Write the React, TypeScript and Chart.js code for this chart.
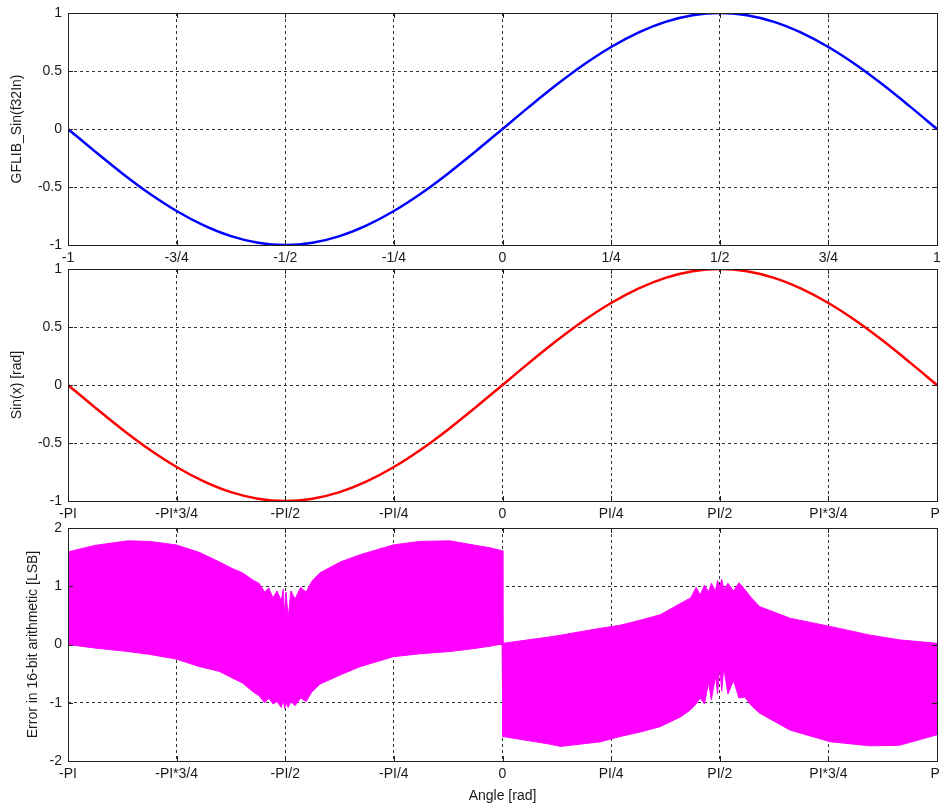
import React, { useEffect, useRef } from "react";
import { Chart, registerables } from "chart.js";

Chart.register(...registerables);

// ---------- tick definitions ----------
const unitTickValues = [-1, -0.75, -0.5, -0.25, 0, 0.25, 0.5, 0.75, 1];
const unitTickLabels = ["-1", "-3/4", "-1/2", "-1/4", "0", "1/4", "1/2", "3/4", "1"];
const piTickLabels = ["-PI", "-PI*3/4", "-PI/2", "-PI/4", "0", "PI/4", "PI/2", "PI*3/4", "PI"];
const sinYTickValues = [-1, -0.5, 0, 0.5, 1];
const sinYTickLabels = ["-1", "-0.5", "0", "0.5", "1"];
const errYTickValues = [-2, -1, 0, 1, 2];
const errYTickLabels = ["-2", "-1", "0", "1", "2"];

// ---------- panel 1: GFLIB_Sin(f32In) ----------
const fracX = [
  -1, -0.9375, -0.875, -0.8125, -0.75, -0.6875, -0.625, -0.5625, -0.5, -0.4375, -0.375,
  -0.3125, -0.25, -0.1875, -0.125, -0.0625, 0, 0.0625, 0.125, 0.1875, 0.25, 0.3125, 0.375,
  0.4375, 0.5, 0.5625, 0.625, 0.6875, 0.75, 0.8125, 0.875, 0.9375, 1,
];
const gflibSin = [
  0, -0.195, -0.383, -0.556, -0.707, -0.831, -0.924, -0.981, -1.0, -0.981, -0.924, -0.831,
  -0.707, -0.556, -0.383, -0.195, 0, 0.195, 0.383, 0.556, 0.707, 0.831, 0.924, 0.981, 1.0,
  0.981, 0.924, 0.831, 0.707, 0.556, 0.383, 0.195, 0,
];

// ---------- panel 2: Sin(x) ----------
const angleX = [
  -3.1416, -2.9452, -2.7489, -2.5525, -2.3562, -2.1598, -1.9635, -1.7671, -1.5708, -1.3744,
  -1.1781, -0.9817, -0.7854, -0.589, -0.3927, -0.1963, 0, 0.1963, 0.3927, 0.589, 0.7854,
  0.9817, 1.1781, 1.3744, 1.5708, 1.7671, 1.9635, 2.1598, 2.3562, 2.5525, 2.7489, 2.9452,
  3.1416,
];
const sinX = [
  0, -0.195, -0.383, -0.556, -0.707, -0.831, -0.924, -0.981, -1.0, -0.981, -0.924, -0.831,
  -0.707, -0.556, -0.383, -0.195, 0, 0.195, 0.383, 0.556, 0.707, 0.831, 0.924, 0.981, 1.0,
  0.981, 0.924, 0.831, 0.707, 0.556, 0.383, 0.195, 0,
];

// ---------- panel 3: error band (upper / lower envelope) ----------
const errX = [
  -3.1416, -2.95, -2.71, -2.55, -2.36, -2.19, -2.05, -1.95, -1.88, -1.8, -1.76, -1.72, -1.69,
  -1.66, -1.63, -1.6, -1.585, -1.575, -1.565, -1.55, -1.53, -1.5, -1.46, -1.42, -1.38, -1.32,
  -1.17, -1.03, -0.79, -0.6, -0.38, -0.24, -0.09, -0.003,
  0.003, 0.34, 0.42, 0.71, 0.85, 1.0, 1.14, 1.29, 1.36, 1.4, 1.43, 1.46, 1.49, 1.51, 1.54,
  1.555, 1.57, 1.585, 1.6, 1.63, 1.67, 1.71, 1.75, 1.8, 1.86, 2.08, 2.37, 2.66, 2.87, 3.1416,
];
const errUpper = [
  1.59, 1.7, 1.78, 1.77, 1.71, 1.58, 1.42, 1.3, 1.23, 1.1, 1.05, 0.9, 0.97, 0.8, 0.92, 0.75,
  0.95, 0.48, 0.9, 0.45, 0.92, 0.78, 0.98, 0.9, 1.08, 1.23, 1.42, 1.54, 1.71, 1.77, 1.78,
  1.72, 1.66, 1.61,
  0.02, 0.13, 0.16, 0.28, 0.33, 0.42, 0.51, 0.71, 0.8, 0.98, 0.85, 1.02, 0.9, 1.05, 0.92,
  1.1, 0.98, 1.12, 0.95, 1.05, 0.92, 1.06, 0.95, 0.8, 0.65, 0.45, 0.31, 0.16, 0.08, 0.02,
];
const errLower = [
  0.0, -0.06, -0.12, -0.17, -0.25, -0.38, -0.46, -0.58, -0.66, -0.82, -0.88, -1.0, -0.92,
  -1.02, -0.98, -1.08, -0.95, -1.1, -1.0, -1.08, -0.98, -1.05, -0.92, -0.98, -0.82, -0.68,
  -0.52, -0.38, -0.21, -0.16, -0.12, -0.08, -0.03, 0.01,
  -1.58, -1.71, -1.75, -1.67, -1.58, -1.5, -1.41, -1.24, -1.12, -1.02, -0.92, -1.02, -0.65,
  -0.95, -0.55, -0.85, -0.38, -0.8, -0.4, -0.85, -0.62, -0.92, -0.9, -1.05, -1.18, -1.47,
  -1.67, -1.74, -1.73, -1.55,
];

const W = 941;
const H = 807;
const PLOT_LEFT = 68;
const PLOT_RIGHT = 937;
const FONT = "'Liberation Sans', Arial, sans-serif";
const TEXT = "#1a1a1a";
const FRAME = "#222222";

const framePlugin = {
  id: "matlabFrame",
  afterDraw(chart: any) {
    const { ctx, chartArea: a, scales } = chart;
    ctx.save();
    ctx.strokeStyle = FRAME;
    ctx.lineWidth = 1;
    ctx.setLineDash([]);
    const tl = 5;
    ctx.beginPath();
    for (const t of scales.x.ticks) {
      const px = Math.round(scales.x.getPixelForValue(t.value)) + 0.5;
      ctx.moveTo(px, a.top);
      ctx.lineTo(px, a.top + tl);
      ctx.moveTo(px, a.bottom);
      ctx.lineTo(px, a.bottom - tl);
    }
    for (const t of scales.y.ticks) {
      const py = Math.round(scales.y.getPixelForValue(t.value)) + 0.5;
      ctx.moveTo(a.left, py);
      ctx.lineTo(a.left + tl, py);
      ctx.moveTo(a.right, py);
      ctx.lineTo(a.right - tl, py);
    }
    ctx.stroke();
    ctx.strokeRect(
      Math.round(a.left) + 0.5,
      Math.round(a.top) + 0.5,
      Math.round(a.right - a.left),
      Math.round(a.bottom - a.top)
    );
    ctx.restore();
  },
};

type PanelSpec = {
  datasets: any[];
  xMin: number;
  xMax: number;
  xTicks: number[];
  xLabels: string[];
  yMin: number;
  yMax: number;
  yTicks: number[];
  yLabels: string[];
  yTitle: string;
  yTitlePad: number;
  top: number;
  bottom: number;
  xTitle?: string;
};

function makeConfig(p: PanelSpec): any {
  const xAxisHeight = p.xTitle ? H - p.bottom : 26;
  const padBottom = H - p.bottom - xAxisHeight;
  const gridStyle = { color: "#333333", lineWidth: 1, drawTicks: false };
  return {
    type: "line",
    data: { datasets: p.datasets },
    plugins: [framePlugin],
    options: {
      animation: false,
      responsive: false,
      maintainAspectRatio: false,
      events: [],
      layout: {
        padding: { top: p.top, bottom: padBottom, left: 0, right: W - PLOT_RIGHT },
      },
      plugins: {
        legend: { display: false },
        tooltip: { enabled: false },
        title: { display: false },
      },
      elements: { point: { radius: 0 } },
      scales: {
        x: {
          type: "linear",
          min: p.xMin,
          max: p.xMax,
          afterBuildTicks: (s: any) => {
            s.ticks = p.xTicks.map((v) => ({ value: v }));
          },
          afterFit: (s: any) => {
            s.height = xAxisHeight;
            s.paddingLeft = 0;
            s.paddingRight = 0;
          },
          ticks: {
            autoSkip: false,
            maxRotation: 0,
            minRotation: 0,
            padding: 5,
            color: TEXT,
            font: { family: FONT, size: 14 },
            callback: (_v: any, i: number) => p.xLabels[i],
          },
          grid: gridStyle,
          border: { display: false, dash: [3, 3] },
          title: p.xTitle
            ? {
                display: true,
                text: p.xTitle,
                color: TEXT,
                font: { family: FONT, size: 14 },
                padding: { top: 0, bottom: 2 },
              }
            : { display: false },
        },
        y: {
          type: "linear",
          min: p.yMin,
          max: p.yMax,
          afterBuildTicks: (s: any) => {
            s.ticks = p.yTicks.map((v) => ({ value: v }));
          },
          afterFit: (s: any) => {
            s.width = PLOT_LEFT;
            s.paddingTop = 0;
            s.paddingBottom = 0;
          },
          ticks: {
            padding: 6,
            color: TEXT,
            font: { family: FONT, size: 14 },
            callback: (_v: any, i: number) => p.yLabels[i],
          },
          grid: gridStyle,
          border: { display: false, dash: [3, 3] },
          title: {
            display: true,
            text: p.yTitle,
            color: TEXT,
            font: { family: FONT, size: 14 },
            padding: { top: p.yTitlePad, bottom: 0 },
          },
        },
      },
    },
  };
}

function Panel({ spec }: { spec: PanelSpec }) {
  const ref = useRef<HTMLCanvasElement | null>(null);
  useEffect(() => {
    if (!ref.current) return;
    const chart = new Chart(ref.current, makeConfig(spec));
    return () => chart.destroy();
  }, [spec]);
  return (
    <canvas
      ref={ref}
      width={W}
      height={H}
      style={{ position: "absolute", left: 0, top: 0, width: W, height: H, display: "block" }}
    />
  );
}

const piTickValues = unitTickValues.map((v) => v * Math.PI);

const panels: PanelSpec[] = [
  {
    datasets: [
      {
        data: fracX.map((x, i) => ({ x, y: gflibSin[i] })),
        borderColor: "#0000ff",
        borderWidth: 2.5,
        cubicInterpolationMode: "monotone",
        fill: false,
      },
    ],
    xMin: -1,
    xMax: 1,
    xTicks: unitTickValues,
    xLabels: unitTickLabels,
    yMin: -1,
    yMax: 1,
    yTicks: sinYTickValues,
    yLabels: sinYTickLabels,
    yTitle: "GFLIB_Sin(f32In)",
    yTitlePad: 9,
    top: 13,
    bottom: 245,
  },
  {
    datasets: [
      {
        data: angleX.map((x, i) => ({ x, y: sinX[i] })),
        borderColor: "#ff0000",
        borderWidth: 2.5,
        cubicInterpolationMode: "monotone",
        fill: false,
      },
    ],
    xMin: -Math.PI,
    xMax: Math.PI,
    xTicks: piTickValues,
    xLabels: piTickLabels,
    yMin: -1,
    yMax: 1,
    yTicks: sinYTickValues,
    yLabels: sinYTickLabels,
    yTitle: "Sin(x) [rad]",
    yTitlePad: 9,
    top: 269,
    bottom: 501,
  },
  {
    datasets: [
      {
        data: errX.map((x, i) => ({ x, y: errUpper[i] })),
        borderColor: "#ff00ff",
        borderWidth: 1,
        backgroundColor: "#ff00ff",
        fill: "+1",
        tension: 0,
      },
      {
        data: errX.map((x, i) => ({ x, y: errLower[i] })),
        borderColor: "#ff00ff",
        borderWidth: 1,
        backgroundColor: "#ff00ff",
        fill: false,
        tension: 0,
      },
    ],
    xMin: -Math.PI,
    xMax: Math.PI,
    xTicks: piTickValues,
    xLabels: piTickLabels,
    yMin: -2,
    yMax: 2,
    yTicks: errYTickValues,
    yLabels: errYTickLabels,
    yTitle: "Error in 16-bit arithmetic [LSB]",
    yTitlePad: 25,
    top: 528,
    bottom: 761,
    xTitle: "Angle [rad]",
  },
];

export default function App() {
  return (
    <div
      style={{
        position: "absolute",
        left: 0,
        top: 0,
        width: W,
        height: H,
        background: "#ffffff",
        overflow: "hidden",
      }}
    >
      {panels.map((s, i) => (
        <Panel key={i} spec={s} />
      ))}
    </div>
  );
}
